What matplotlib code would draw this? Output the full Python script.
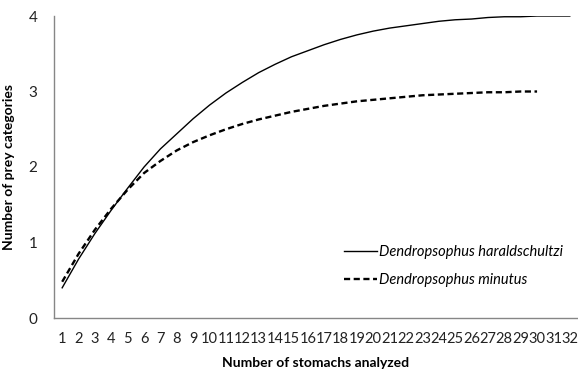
import matplotlib
matplotlib.use("Agg")
import matplotlib.pyplot as plt

stomachs = list(range(1, 33))
haraldschultzi = [0.40, 0.78, 1.12, 1.43, 1.72, 2.00, 2.24, 2.44, 2.64, 2.82, 2.98, 3.12,
                  3.25, 3.36, 3.46, 3.54, 3.62, 3.69, 3.75, 3.80, 3.84, 3.87, 3.90, 3.93,
                  3.95, 3.96, 3.98, 3.99, 3.99, 4.00, 4.00, 4.00]
minutus = [0.48, 0.85, 1.17, 1.45, 1.70, 1.92, 2.08, 2.22, 2.33, 2.42, 2.50, 2.57,
           2.63, 2.68, 2.73, 2.77, 2.81, 2.84, 2.87, 2.89, 2.91, 2.93, 2.95, 2.96,
           2.97, 2.98, 2.99, 2.99, 3.00, 3.00]
yticks = [0, 1, 2, 3, 4]

plt.rcParams['font.family'] = ['Lato', 'DejaVu Sans']

W, H = 578, 369
fig = plt.figure(figsize=(W / 100, H / 100), dpi=100)
ax = fig.add_axes([54 / W, 1 - 318 / H, (578 - 54) / W, (318 - 16) / H])

ax.plot(stomachs, haraldschultzi, color='black', lw=1.0,
        label='Dendropsophus haraldschultzi')
ax.plot(stomachs[:len(minutus)], minutus, color='black', lw=1.7,
        dashes=(2.6, 1.5), label='Dendropsophus minutus')

ax.set_xlim(0.5, 32.5)
ax.set_ylim(0, 4)
ax.set_xticks(stomachs)
ax.set_xticklabels([str(s) for s in stomachs], fontsize=10.5)
ax.set_yticks(yticks)
ax.set_yticklabels([str(v) for v in yticks], fontsize=11)
ax.tick_params(length=0, pad=10, colors='#222222')
ax.tick_params(axis='y', pad=12)
for s in ['top', 'right']:
    ax.spines[s].set_visible(False)
for s in ['left', 'bottom']:
    ax.spines[s].set_color('#868686')
    ax.spines[s].set_linewidth(1.0)

ax.set_xlabel('Number of stomachs analyzed', fontsize=10, fontweight='bold', labelpad=8)
ax.set_ylabel('Number of prey categories', fontsize=10, fontweight='bold')
ax.yaxis.set_label_coords(15 / W, 1 - 167 / H, transform=fig.transFigure)

leg = ax.legend(loc='upper left', bbox_to_anchor=(338 / W, 1 - 239 / H),
                bbox_transform=fig.transFigure, frameon=False,
                prop={'style': 'italic', 'size': 10.5}, handlelength=2.3,
                handletextpad=0.1, labelspacing=0.95, borderaxespad=0)

fig.savefig('out.png', dpi=100, facecolor='white')
